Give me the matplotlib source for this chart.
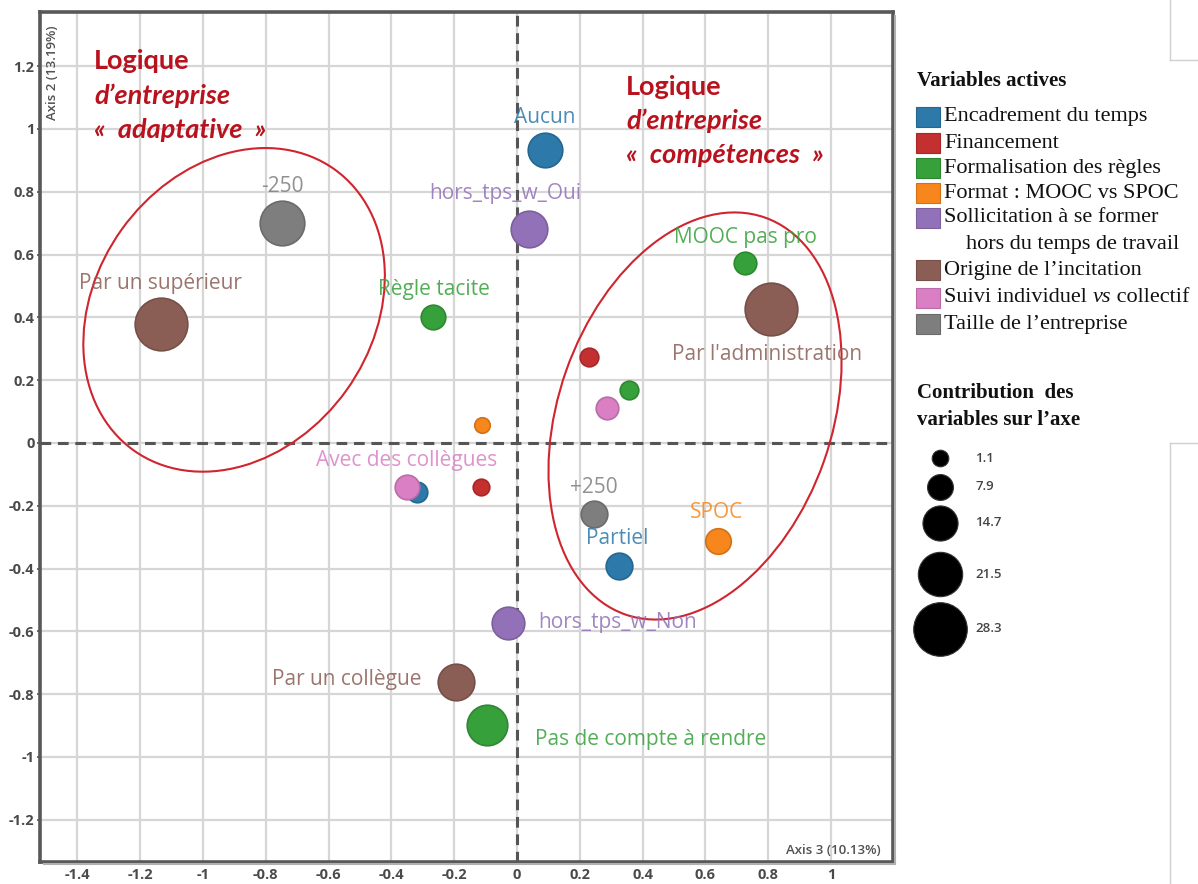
import matplotlib
matplotlib.use("Agg")
import matplotlib.pyplot as plt
import matplotlib.transforms as mtrans
from matplotlib.patches import Ellipse, Rectangle
from matplotlib.lines import Line2D

# ---------------- data ----------------
groups = ["Encadrement du temps", "Financement", "Formalisation des règles",
          "Format : MOOC vs SPOC", "Sollicitation à se former",
          "Origine de l’incitation", "Suivi individuel vs collectif",
          "Taille de l’entreprise"]
group_colors = ["#2c79aa", "#c42f2f", "#36a03b", "#f7861c",
                "#9271b8", "#8b5e55", "#da7fc4", "#7e7e7e"]

labels = ["Aucun", "-250", "hors_tps_w_Oui", "MOOC pas pro", "Par l'administration",
          "Par un supérieur", "Règle tacite", "", "", "", "", "", "Avec des collègues",
          "", "+250", "SPOC", "Partiel", "hors_tps_w_Non", "Par un collègue",
          "Pas de compte à rendre"]
axis3 = [0.089, -0.748, 0.038, 0.726, 0.809, -1.134, -0.268, 0.229, 0.357, 0.287,
         -0.111, -0.318, -0.350, -0.115, 0.245, 0.640, 0.325, -0.029, -0.194, -0.096]
axis2 = [0.933, 0.701, 0.680, 0.573, 0.427, 0.379, 0.401, 0.274, 0.169, 0.111,
         0.057, -0.156, -0.140, -0.140, -0.226, -0.312, -0.392, -0.573, -0.761, -0.898]
group_idx = [0, 7, 4, 2, 5, 5, 2, 1, 2, 6, 3, 0, 6, 1, 7, 3, 0, 4, 5, 2]
contrib = [14.3, 21.7, 15.8, 5.5, 27.6, 27.6, 7.0, 2.6, 2.6, 5.5,
           0.3, 4.0, 7.0, 1.1, 8.5, 7.7, 8.5, 12.9, 15.8, 18.7]
size_legend = [1.1, 7.9, 14.7, 21.5, 28.3]

xticks = [-1.4, -1.2, -1, -0.8, -0.6, -0.4, -0.2, 0, 0.2, 0.4, 0.6, 0.8, 1]
yticks = [-1.2, -1, -0.8, -0.6, -0.4, -0.2, 0, 0.2, 0.4, 0.6, 0.8, 1, 1.2]

# label placement: (dx px, dy px up, ha)
label_offsets = {
    "Aucun": (0, 33, "center"), "-250": (0, 36, "center"),
    "hors_tps_w_Oui": (-24, 36, "center"), "MOOC pas pro": (0, 26, "center"),
    "Par l'administration": (-4, -46, "center"), "Par un supérieur": (0, 40, "center"),
    "Règle tacite": (1, 28, "center"), "Avec des collègues": (0, 26, "center"),
    "+250": (0, 26, "center"), "SPOC": (-1, 28, "center"), "Partiel": (-2, 28, "center"),
    "hors_tps_w_Non": (30, 0, "left"), "Par un collègue": (-35, 2, "right"),
    "Pas de compte à rendre": (48, -15, "left"),
}

PX = 0.72  # points per pixel at dpi 100


def radius_px(c):
    return 9.0 + 0.68 * (c - 1.1)


def size_pts2(c):
    return (2 * radius_px(c) * PX - 1.0) ** 2


def darker(hexc, f=0.8):
    h = hexc.lstrip("#")
    r, g, b = (int(h[i:i + 2], 16) for i in (0, 2, 4))
    return (r * f / 255, g * f / 255, b * f / 255)


# ---------------- figure ----------------
fig = plt.figure(figsize=(11.98, 8.84), dpi=100)
L, R, T, B = 40, 893, 12, 862
ax = fig.add_axes([L / 1198, 1 - B / 884, (R - L) / 1198, (B - T) / 884])
x0 = 517
y0 = 443
scale = 314.0
ax.set_xlim((L - x0) / scale, (R - x0) / scale)
ax.set_ylim((y0 - B) / scale, (y0 - T) / scale)

ax.set_xticks(xticks)
ax.set_yticks(yticks)
fmt = lambda v: ("%g" % v)
ax.set_xticklabels([fmt(v) for v in xticks])
ax.set_yticklabels([fmt(v) for v in yticks])
for lab in ax.get_xticklabels() + ax.get_yticklabels():
    lab.set_fontfamily("Open Sans")
    lab.set_fontweight("bold")
    lab.set_fontsize(10.5)
    lab.set_color("#4a4a4a")
ax.tick_params(length=2, width=1.2, color="#555555", pad=2)
ax.grid(True, color="#d6d6d6", lw=1.6, zorder=0)
ax.set_axisbelow(True)
for s in ax.spines.values():
    s.set_color("#585858")
    s.set_linewidth(2.6)

ax.axhline(0, color="#555555", lw=2.2, ls=(0, (3.5, 2.2)), zorder=1)
ax.axvline(0, color="#555555", lw=2.2, ls=(0, (3.5, 2.2)), zorder=1)

# ellipses
ax.add_patch(Ellipse((-0.901, 0.424), 1.10, 0.88, angle=54.4, fill=False,
                     ec="#d0252e", lw=1.5, zorder=2))
ax.add_patch(Ellipse((0.567, 0.086), 1.34, 0.87, angle=70.6, fill=False,
                     ec="#d0252e", lw=1.5, zorder=2))

# points
for i in range(len(axis3)):
    col = group_colors[group_idx[i]]
    ax.scatter([axis3[i]], [axis2[i]], s=size_pts2(contrib[i]), color=col,
               edgecolor=darker(col, 0.85), linewidth=1.2, zorder=3 + i * 0.01)
    lab = labels[i]
    if lab:
        dx, dy, ha = label_offsets[lab]
        ax.annotate(lab, (axis3[i], axis2[i]), xytext=(dx * PX, dy * PX),
                    textcoords="offset points", ha=ha, va="center",
                    fontsize=15, fontfamily="Open Sans", color=col, alpha=0.85,
                    zorder=5)

# ---------------- overlay in pixel coordinates ----------------
ov = fig.add_axes([0, 0, 1, 1], facecolor="none")
ov.set_xlim(0, 1198)
ov.set_ylim(884, 0)
ov.axis("off")

# frame shadow
ov.add_line(Line2D([R + 2, R + 2], [T + 4, B + 2], color="#b0b0b0", lw=1.5))
ov.add_line(Line2D([L + 4, R + 2], [B + 2, B + 2], color="#b0b0b0", lw=1.5))

ov.text(53, 73, "Axis 2 (13.19%)", rotation=90, ha="center", va="center",
        fontsize=9.5, fontfamily="Open Sans", fontweight="semibold", color="#505050")
ov.text(833, 850, "Axis 3 (10.13%)", ha="center", va="center",
        fontsize=9.5, fontfamily="Open Sans", fontweight="semibold", color="#505050")

red = "#b8121e"
for (x, ys, lines) in [(94, [61, 96, 130], ["Logique", "d’entreprise", "«\u2002adaptative\u2002»"]),
                       (626, [87, 121, 155], ["Logique", "d’entreprise", "«\u2002compétences\u2002»"])]:
    for j, (yy, t) in enumerate(zip(ys, lines)):
        ov.text(x, yy, t, ha="left", va="center", fontsize=19.5, fontfamily="Lato",
                fontweight="bold", fontstyle="normal" if j == 0 else "italic", color=red)

# legend: variables actives
serif = "Liberation Serif"
ov.text(917, 81, "Variables actives", ha="left", va="center", fontsize=15,
        fontfamily=serif, fontweight="bold", color="#111111")
legend_rows = [117, 143, 168, 193, 218, 270, 298, 324]
blend = mtrans.blended_transform_factory(mtrans.IdentityTransform(), ov.transData)
for k, (g, yy) in enumerate(zip(groups, legend_rows)):
    col = group_colors[k]
    ov.add_patch(Rectangle((916, yy - 10), 24, 20, facecolor=col,
                           edgecolor=darker(col, 0.85), lw=0.8))
    if k == 6:
        t1 = ov.text(944, yy, "Suivi individuel ", ha="left", va="center",
                     fontsize=16, fontfamily=serif, color="#111111")
        fig.canvas.draw()
        xe = t1.get_window_extent().x1
        t2 = ov.text(xe, yy, "vs", ha="left", va="center", fontsize=16,
                     fontfamily=serif, fontstyle="italic", color="#111111",
                     transform=blend)
        fig.canvas.draw()
        xe2 = t2.get_window_extent().x1
        ov.text(xe2, yy, " collectif", ha="left", va="center", fontsize=16,
                fontfamily=serif, color="#111111", transform=blend)
    else:
        ov.text(944, yy, g, ha="left", va="center", fontsize=16,
                fontfamily=serif, color="#111111")
ov.text(966, 245, "hors du temps de travail", ha="left", va="center", fontsize=16,
        fontfamily=serif, color="#111111")

# legend: contributions
ov.text(917, 393, "Contribution  des", ha="left", va="center", fontsize=15,
        fontfamily=serif, fontweight="bold", color="#111111")
ov.text(917, 420, "variables sur l’axe", ha="left", va="center", fontsize=15,
        fontfamily=serif, fontweight="bold", color="#111111")
size_rows = [458, 487, 523, 574, 629]
for c, yy in zip(size_legend, size_rows):
    ov.scatter([940], [yy], s=size_pts2(c), color="black", edgecolor="#333333", lw=0.8)
    ov.text(975, yy, ("%g" % c), ha="left", va="center", fontsize=9.5,
            fontfamily="Open Sans", fontweight="semibold", color="#444444")

# stray screenshot box borders on the right
ov.add_line(Line2D([1170, 1170], [0, 60], color="#d0d0d0", lw=1))
ov.add_line(Line2D([1170, 1198], [60, 60], color="#d0d0d0", lw=1))
ov.add_line(Line2D([1170, 1198], [443, 443], color="#d0d0d0", lw=1))
ov.add_line(Line2D([1170, 1170], [443, 884], color="#d0d0d0", lw=1))

fig.savefig("out.png", dpi=100)
